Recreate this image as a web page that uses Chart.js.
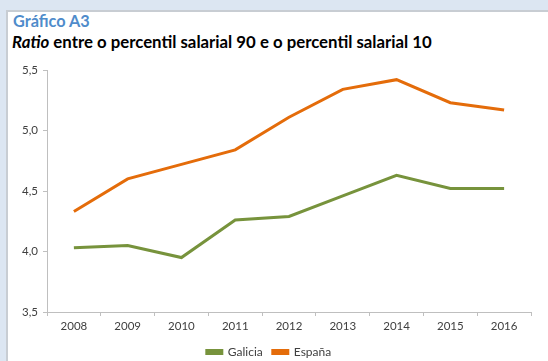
<!DOCTYPE html>
<html>
<head>
<meta charset="utf-8">
<script src="https://cdn.jsdelivr.net/npm/chart.js@4.4.1/dist/chart.umd.min.js"></script>
<style>
  html, body { margin: 0; padding: 0; }
  body { width: 548px; height: 361px; background: #dce6f2; position: relative; overflow: hidden; font-family: Lato, "Open Sans", sans-serif; }
  #panel { position: absolute; left: 6px; top: 10px; width: 560px; height: 370px; background: #fff; border-left: 2px solid #c8cdd3; border-top: 2px solid #c8cdd3; }
  #title { position: absolute; left: 13px; top: 11px; font-size: 16.3px; font-weight: bold; color: #4f8ccb; }
  #subtitle { position: absolute; left: 12px; top: 31px; font-size: 16.8px; font-weight: bold; color: #000; white-space: nowrap; }
  #wrap { position: absolute; left: 7px; top: 55px; width: 541px; height: 306px; }
</style>
</head>
<body>
<div id="panel"></div>
<div id="title">Gráfico A3</div>
<div id="subtitle"><i>Ratio</i> entre o percentil salarial 90 e o percentil salarial 10</div>
<div id="wrap"><canvas id="myChart"></canvas></div>
<script>
    "use strict";

    // data
    var years = ['2008', '2009', '2010', '2011', '2012', '2013', '2014', '2015', '2016'];
    var galicia = [4.03, 4.05, 3.95, 4.26, 4.29, 4.46, 4.63, 4.52, 4.52];
    var espana = [4.33, 4.60, 4.72, 4.84, 5.11, 5.34, 5.42, 5.23, 5.17];
    var yTicks = [3.5, 4.0, 4.5, 5.0, 5.5];

    var axisGrey = '#bfbfbf';
    var textGrey = '#404040';

    var ctx = document.getElementById('myChart').getContext('2d');
    var chart = new Chart(ctx, {
        type: 'line',
        data: {
            labels: years,
            datasets: [{
                    label: 'Galicia',
                    borderColor: '#77933c',
                    backgroundColor: '#77933c',
                    borderWidth: 3,
                    pointRadius: 0,
                    tension: 0,
                    data: galicia
                },
                {
                    label: 'España',
                    borderColor: '#e46c0a',
                    backgroundColor: '#e46c0a',
                    borderWidth: 3,
                    pointRadius: 0,
                    tension: 0,
                    data: espana
                }
            ]
        },
        options: {
            responsive: true,
            maintainAspectRatio: false,
            animation: false,
            layout: {
                padding: { left: 0, right: 17, top: 15, bottom: 0 }
            },
            plugins: {
                tooltip: { enabled: false },
                legend: {
                    position: 'bottom',
                    maxHeight: 25,
                    labels: {
                        boxWidth: 15,
                        boxHeight: 3,
                        padding: 10,
                        color: textGrey,
                        font: { family: 'Lato', size: 12 }
                    }
                }
            },
            scales: {
                x: {
                    offset: true,
                    grid: { offset: true, drawOnChartArea: false, drawTicks: true, tickLength: 4, color: axisGrey },
                    border: { color: axisGrey },
                    ticks: { color: textGrey, font: { family: 'Lato', size: 11.5 }, padding: 3, maxRotation: 0 },
                    afterFit: function (scale) { scale.height = 24; }
                },
                y: {
                    min: 3.5,
                    max: 5.5,
                    afterBuildTicks: function (scale) {
                        scale.ticks = yTicks.map(function (v) { return { value: v }; });
                    },
                    grid: { drawOnChartArea: false, drawTicks: true, tickLength: 4, color: axisGrey },
                    border: { color: axisGrey },
                    ticks: {
                        color: textGrey,
                        font: { family: 'Lato', size: 11.5 },
                        padding: 5,
                        callback: function (v) { return v.toFixed(1).replace('.', ','); }
                    },
                    afterFit: function (scale) { scale.width = 40; }
                }
            }
        }
    });
</script>
</body>
</html>
